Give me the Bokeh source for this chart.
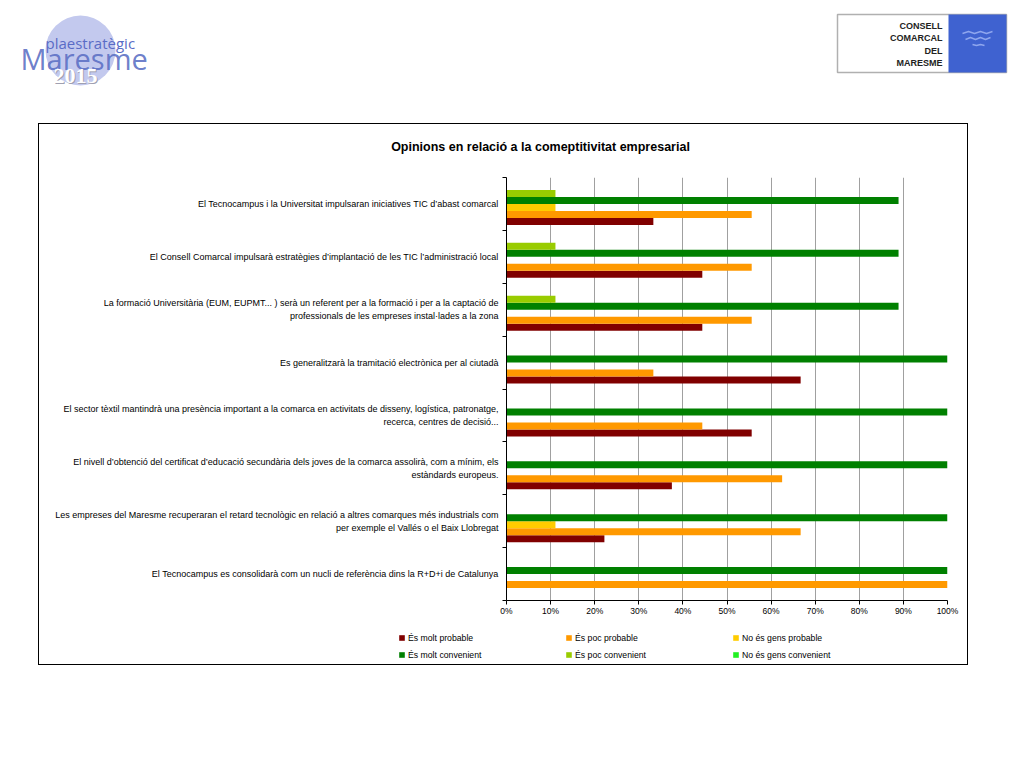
import numpy as np
from bokeh.plotting import figure
from bokeh.models import Range1d, FixedTicker, Legend, LegendItem, Spacer
from bokeh.layouts import column, row
from bokeh.core.properties import value
from bokeh.embed import file_html
from bokeh.resources import INLINE

# ---------------- data ----------------
title_text = "Opinions en relació a la comeptitivitat empresarial"
categories = [
    "El Tecnocampus i la Universitat impulsaran iniciatives TIC d’abast comarcal",
    "El Consell Comarcal impulsarà estratègies d’implantació de les TIC l’administració local",
    "La formació Universitària (EUM, EUPMT... ) serà un referent per a la formació i per a la captació de\nprofessionals de les empreses instal·lades a la zona",
    "Es generalitzarà la tramitació electrònica per al ciutadà",
    "El sector tèxtil mantindrà una presència important a la comarca en activitats de disseny, logística, patronatge,\nrecerca, centres de decisió...",
    "El nivell d’obtenció del certificat d’educació secundària dels joves de la comarca assolirà, com a mínim, els\nestàndards europeus.",
    "Les empreses del Maresme recuperaran el retard tecnològic en relació a altres comarques més industrials com\nper exemple el Vallés o el Baix Llobregat",
    "El Tecnocampus es consolidarà com un nucli de referència dins la R+D+i de Catalunya",
]
series_names = ["És molt probable", "És poc probable", "No és gens probable",
                "És molt convenient", "És poc convenient", "No és gens convenient"]
molt_probable = [33.3, 44.4, 44.4, 66.7, 55.6, 37.5, 22.2, 0.0]
poc_probable = [55.6, 55.6, 55.6, 33.3, 44.4, 62.5, 66.7, 100.0]
gens_probable = [11.1, 0.0, 0.0, 0.0, 0.0, 0.0, 11.1, 0.0]
molt_convenient = [88.9, 88.9, 88.9, 100.0, 100.0, 100.0, 100.0, 100.0]
poc_convenient = [11.1, 11.1, 11.1, 0.0, 0.0, 0.0, 0.0, 0.0]
gens_convenient = [0.0, 0.0, 0.0, 0.0, 0.0, 0.0, 0.0, 0.0]
x_ticks = [0, 10, 20, 30, 40, 50, 60, 70, 80, 90, 100]
x_tick_labels = ["0%", "10%", "20%", "30%", "40%", "50%", "60%", "70%", "80%", "90%", "100%"]

series_values = [molt_probable, poc_probable, gens_probable,
                 molt_convenient, poc_convenient, gens_convenient]
series_colors = ["#800000", "#FF9900", "#FFCC00", "#008000", "#99CC00", "#22F022"]

FONT = "Liberation Sans"


def bare(fig):
    fig.axis.visible = False
    fig.grid.visible = False
    fig.outline_line_color = None
    return fig


# ---------------- logo strip ----------------
lg = bare(figure(width=1016, height=123, x_range=Range1d(0, 1016), y_range=Range1d(123, 0),
                 output_backend="svg", toolbar_location=None, min_border=0))
lg.circle(x=[80], y=[50], radius=35, fill_color="#c3c9ee", line_color=None)
lg.text(x=[45], y=[42], text=["plaestratègic"], text_font=value("Open Sans"),
        text_font_size="15px", text_color="#5a6cc6", text_baseline="alphabetic")
lg.text(x=[20], y=[58], text=["Maresme"], text_font=value("Open Sans"),
        text_font_size="29px", text_color="#5b6fc4", text_alpha=0.9, text_baseline="alphabetic")
lg.text(x=[54], y=[76], text=["2015"], text_font=value("Liberation Serif"),
        text_font_size="22px", text_font_style="bold", text_color="#a0a0b0", text_baseline="alphabetic")
lg.text(x=[53], y=[75], text=["2015"], text_font=value("Liberation Serif"),
        text_font_size="22px", text_font_style="bold", text_color="#ffffff", text_baseline="alphabetic")
lg.quad(left=[837], right=[1006], top=[14], bottom=[72], fill_color="white", line_color="#b0b0b0", line_width=1.5)
lg.quad(left=[948], right=[1006], top=[14], bottom=[72], fill_color="#3f62d0", line_color=None)
lg.multi_line(xs=[[962, 968, 974, 980, 986, 992], [965, 970, 975, 980, 985, 990], [972, 976, 980, 984]],
              ys=[[33, 31, 33, 31, 33, 31], [39, 37, 39, 37, 39, 37], [44, 45, 44, 45]],
              line_color="#8fa6ee", line_width=1.5)
lg.text(x=[942] * 4, y=[25, 37.5, 50, 62.5], text=["CONSELL", "COMARCAL", "DEL", "MARESME"],
        text_font=value(FONT), text_font_size="9px", text_font_style="bold",
        text_color="#222222", text_align="right", text_baseline="middle")

# ---------------- chart title strip ----------------
BOX_W = 928
tf = bare(figure(width=BOX_W, height=49, x_range=Range1d(0, BOX_W), y_range=Range1d(49, 0),
                 output_backend="svg", toolbar_location=None, min_border=0))
tf.frame_align = False
tf.text(x=[501], y=[22], text=[title_text], text_font=value(FONT), text_font_size="12.5px",
        text_font_style="bold", text_color="black", text_align="center", text_baseline="middle")

# ---------------- chart ----------------
n = len(categories)
centers = np.arange(n)[::-1] + 0.5          # first category drawn at the top
bh = 0.1324                                   # bar thickness in category units

p = figure(width=BOX_W, height=447, x_range=Range1d(0, 100), y_range=Range1d(0, n),
           output_backend="svg", toolbar_location=None,
           min_border_left=467, min_border_right=20, min_border_top=4, min_border_bottom=20)
p.frame_align = False
p.outline_line_color = None

for k, (vals, col) in enumerate(zip(series_values, series_colors)):
    ys = centers + (k - 2.5) * bh
    p.hbar(y=ys, left=0, right=vals, height=bh, fill_color=col, line_color=None)

p.xaxis.ticker = FixedTicker(ticks=x_ticks)
p.xaxis.major_label_overrides = {t: s for t, s in zip(x_ticks, x_tick_labels)}
p.xaxis.major_label_text_font = FONT
p.xaxis.major_label_text_font_size = "8.5px"
p.xaxis.major_label_text_color = "black"
p.xaxis.major_label_standoff = 1
p.xaxis.major_tick_in = 0
p.xaxis.major_tick_out = 4
p.xaxis.major_tick_line_color = "black"
p.xaxis.minor_tick_line_color = None
p.xaxis.axis_line_color = "black"
p.xgrid.ticker = FixedTicker(ticks=x_ticks)
p.xgrid.grid_line_color = "#a0a0a0"
p.ygrid.visible = False

p.yaxis.ticker = FixedTicker(ticks=list(centers), minor_ticks=list(range(n + 1)))
p.yaxis.major_label_overrides = {float(c): lab for c, lab in zip(centers, categories)}
p.yaxis.major_label_text_font = FONT
p.yaxis.major_label_text_font_size = "9px"
p.yaxis.major_label_text_color = "black"
p.yaxis.major_label_text_line_height = 1.3
p.yaxis.major_label_standoff = 4
p.yaxis.major_tick_in = 0
p.yaxis.major_tick_out = 0
p.yaxis.minor_tick_in = 0
p.yaxis.minor_tick_out = 4
p.yaxis.minor_tick_line_color = "black"
p.yaxis.axis_line_color = "black"

# ---------------- legend strip ----------------
lf = bare(figure(width=BOX_W, height=44, x_range=Range1d(0, 1), y_range=Range1d(0, 1),
                 output_backend="svg", toolbar_location=None, min_border=0))
lf.frame_align = False
legend_items = {}
for nm, col in zip(series_names, series_colors):
    # swatch-only renderer, kept outside the visible range of this strip
    r = lf.hbar(y=[-5], left=[0], right=[1], height=0.1, fill_color=col, line_color=None)
    legend_items[nm] = LegendItem(label=nm, renderers=[r])
# the legend fills column by column: order so rows read like the reference
ordered = [series_names[i] for i in (0, 3, 1, 4, 2, 5)]
legend = Legend(items=[legend_items[nm] for nm in ordered], ncols=3, location=(359, 1),
                glyph_width=7, glyph_height=7, label_standoff=3, label_width=157,
                label_height=17, spacing=0, padding=0, margin=0,
                label_text_font=FONT, label_text_font_size="8.7px", label_text_color="black",
                border_line_color=None, background_fill_alpha=0)
lf.add_layout(legend, "center")

chart_box = column(tf, p, lf, spacing=0, styles={"border": "1px solid #000000"})
layout = column(lg, row(Spacer(width=38, height=10), chart_box))
open("out.html", "w").write(file_html(layout, INLINE))
